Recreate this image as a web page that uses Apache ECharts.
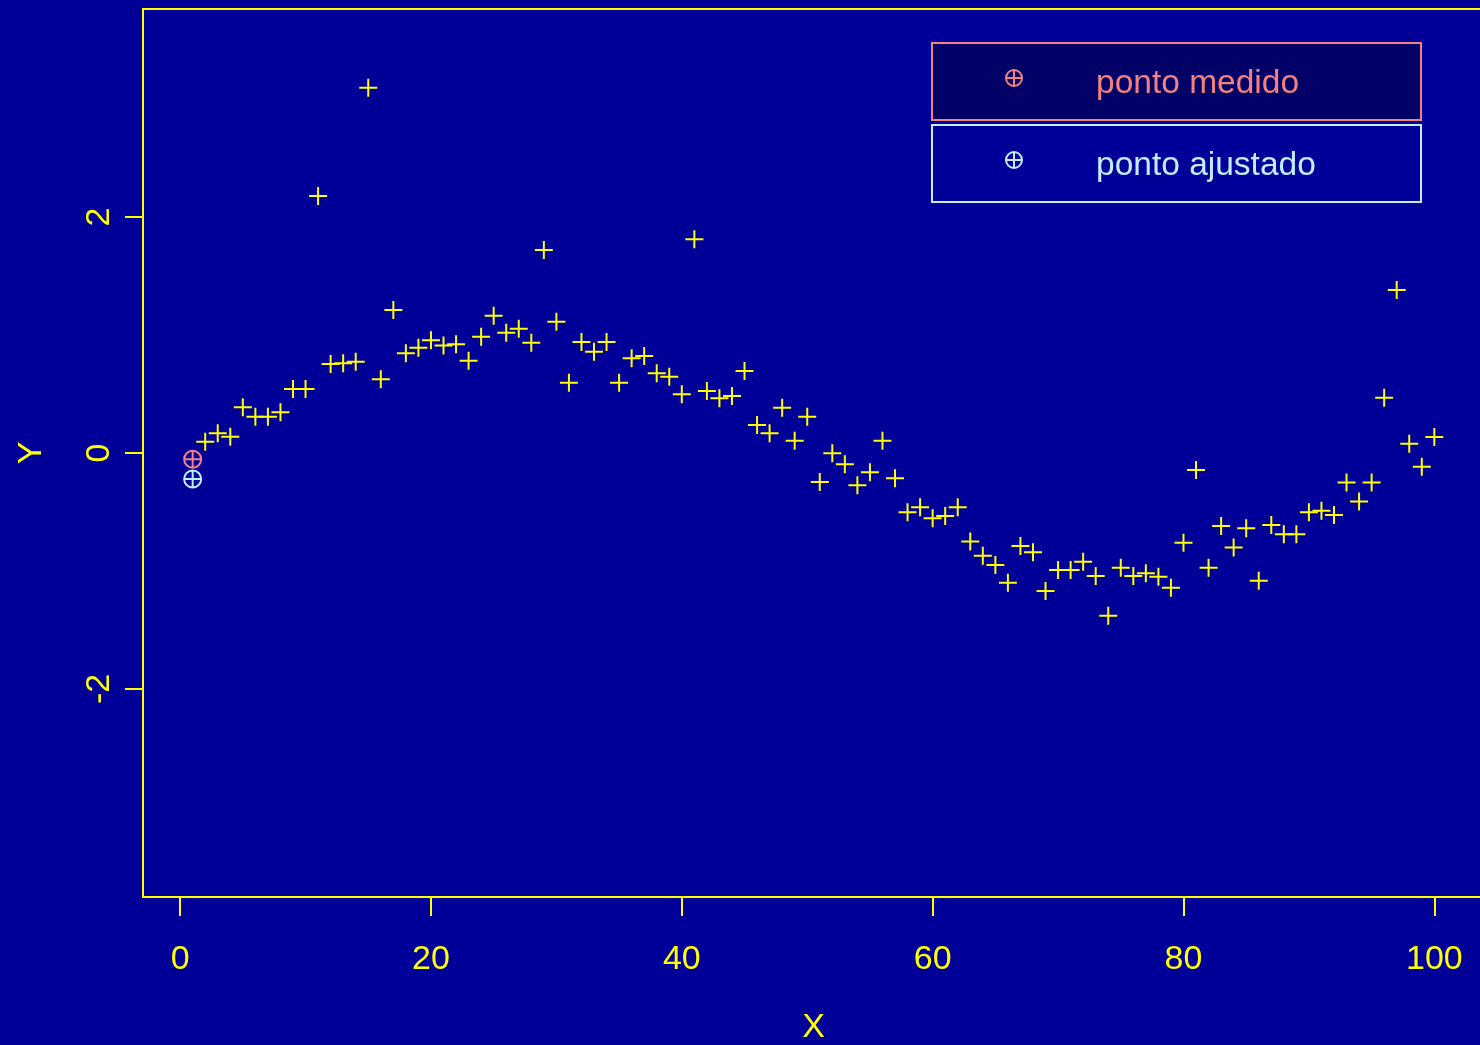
<!DOCTYPE html>
<html>
<head>
<meta charset="utf-8">
<title>ponto medido / ponto ajustado</title>
<script src="https://cdn.jsdelivr.net/npm/echarts@6/dist/echarts.min.js"></script>
<style>
  html, body { margin: 0; padding: 0; background: #000099; }
  #chart { width: 1480px; height: 1045px; }
</style>
</head>
<body>
<div id="chart"></div>
<script>
// Observations (x = 2..100)
const obsX = [2, 3, 4, 5, 6, 7, 8, 9, 10, 11, 12, 13, 14, 15, 16, 17, 18, 19, 20,
  21, 22, 23, 24, 25, 26, 27, 28, 29, 30, 31, 32, 33, 34, 35, 36, 37, 38, 39, 40,
  41, 42, 43, 44, 45, 46, 47, 48, 49, 50, 51, 52, 53, 54, 55, 56, 57, 58, 59, 60,
  61, 62, 63, 64, 65, 66, 67, 68, 69, 70, 71, 72, 73, 74, 75, 76, 77, 78, 79, 80,
  81, 82, 83, 84, 85, 86, 87, 88, 89, 90, 91, 92, 93, 94, 95, 96, 97, 98, 99, 100];
const obsY = [0.096, 0.167, 0.138, 0.387, 0.308, 0.308, 0.345, 0.542, 0.542,
  2.178, 0.754, 0.760, 0.774, 3.096, 0.624, 1.212, 0.845, 0.893, 0.955,
  0.912, 0.921, 0.782, 0.986, 1.164, 1.020, 1.054, 0.935, 1.720, 1.113,
  0.596, 0.941, 0.859, 0.941, 0.596, 0.802, 0.822, 0.675, 0.647, 0.497,
  1.811, 0.525, 0.463, 0.483, 0.695, 0.237, 0.167, 0.384, 0.104, 0.308,
  -0.246, -0.003, -0.096, -0.274, -0.164, 0.104, -0.215, -0.503, -0.460, -0.554,
  -0.534, -0.460, -0.751, -0.870, -0.949, -1.099, -0.788, -0.842, -1.169, -0.992,
  -0.992, -0.921, -1.042, -1.379, -0.972, -1.042, -1.020, -1.048, -1.141, -0.760,
  -0.144, -0.972, -0.619, -0.800, -0.638, -1.082, -0.610, -0.689, -0.689, -0.503,
  -0.489, -0.525, -0.251, -0.412, -0.251, 0.469, 1.381, 0.079, -0.116, 0.136];

// The highlighted point at x = 1: measured value and fitted value
const measuredPoint = [1, -0.053];
const fittedPoint = [1, -0.220];

const seriesNames = ['ponto medido', 'ponto ajustado'];
const xTicks = [0, 20, 40, 60, 80, 100];
const yTicks = [-2, 0, 2];

const BG = '#000099';
const FG = '#FFFF00';
const SALMON = '#F4807F';
const PALE = '#BFEFFF';
const FONT = '"Liberation Sans", Arial, Helvetica, sans-serif';

const PLUS = 'path://M9,0L9,18M0,9L18,9';
const CIRCLE_PLUS = 'path://M0,10A10,10 0 1,1 20,10A10,10 0 1,1 0,10ZM10,0L10,20M0,10L20,10';

const chart = echarts.init(document.getElementById('chart'), null, { renderer: 'canvas' });

const axisText = { color: FG, fontSize: 34, fontFamily: FONT };

// One framed legend box: circled-plus key plus label
function legendEntry(top, name, color, fill) {
  const cx = 82, cy = 35, r = 8;
  const stroke = { stroke: color, lineWidth: 2, fill: 'none' };
  return {
    type: 'group',
    left: 931,
    top: top,
    children: [
      {
        type: 'rect',
        shape: { x: 0, y: 0, width: 489, height: 77 },
        style: { fill: fill, stroke: color, lineWidth: 2 }
      },
      { type: 'circle', shape: { cx: cx, cy: cy, r: r }, style: stroke },
      { type: 'line', shape: { x1: cx - r, y1: cy, x2: cx + r, y2: cy }, style: stroke },
      { type: 'line', shape: { x1: cx, y1: cy - r, x2: cx, y2: cy + r }, style: stroke },
      {
        type: 'text',
        x: 164,
        y: 41,
        style: {
          text: name, fill: color, fontSize: 33.5, fontFamily: FONT,
          verticalAlign: 'middle', align: 'left'
        }
      }
    ]
  };
}

chart.setOption({
  backgroundColor: BG,
  animation: false,
  grid: {
    left: 143, top: 9, width: 1341, height: 888,
    outerBoundsMode: 'none',
    containLabel: false,
    show: true, borderColor: FG, borderWidth: 2, backgroundColor: 'transparent'
  },
  xAxis: {
    type: 'value',
    min: -2.96, max: 103.96,
    name: 'X',
    nameLocation: 'middle',
    nameGap: 114,
    nameTextStyle: axisText,
    axisLine: { show: false, onZero: false },
    axisTick: { show: true, inside: false, customValues: xTicks, length: 19, lineStyle: { color: FG, width: 2 } },
    axisLabel: { customValues: xTicks, margin: 46, ...axisText },
    splitLine: { show: false }
  },
  yAxis: {
    type: 'value',
    min: -3.763, max: 3.763,
    name: 'Y',
    nameLocation: 'middle',
    nameGap: 94,
    nameTextStyle: axisText,
    axisLine: { show: false, onZero: false },
    axisTick: { show: true, inside: false, customValues: yTicks, length: 18, lineStyle: { color: FG, width: 2 } },
    axisLabel: { customValues: yTicks, rotate: 90, margin: 26, ...axisText },
    splitLine: { show: false }
  },
  series: [
    {
      name: 'observado',
      type: 'scatter',
      data: obsX.map((x, i) => [x, obsY[i]]),
      symbol: PLUS,
      symbolSize: 18,
      itemStyle: { color: 'rgba(0,0,0,0)', borderColor: FG, borderWidth: 2, opacity: 1 },
      silent: true
    },
    {
      name: seriesNames[0],
      type: 'scatter',
      data: [measuredPoint],
      symbol: CIRCLE_PLUS,
      symbolSize: 17,
      itemStyle: { color: 'rgba(0,0,0,0)', borderColor: SALMON, borderWidth: 2, opacity: 1 },
      silent: true
    },
    {
      name: seriesNames[1],
      type: 'scatter',
      data: [fittedPoint],
      symbol: CIRCLE_PLUS,
      symbolSize: 17,
      itemStyle: { color: 'rgba(0,0,0,0)', borderColor: PALE, borderWidth: 2, opacity: 1 },
      silent: true
    }
  ],
  graphic: [
    legendEntry(42, seriesNames[0], SALMON, '#000066'),
    legendEntry(124, seriesNames[1], PALE, BG)
  ]
});
</script>
</body>
</html>
